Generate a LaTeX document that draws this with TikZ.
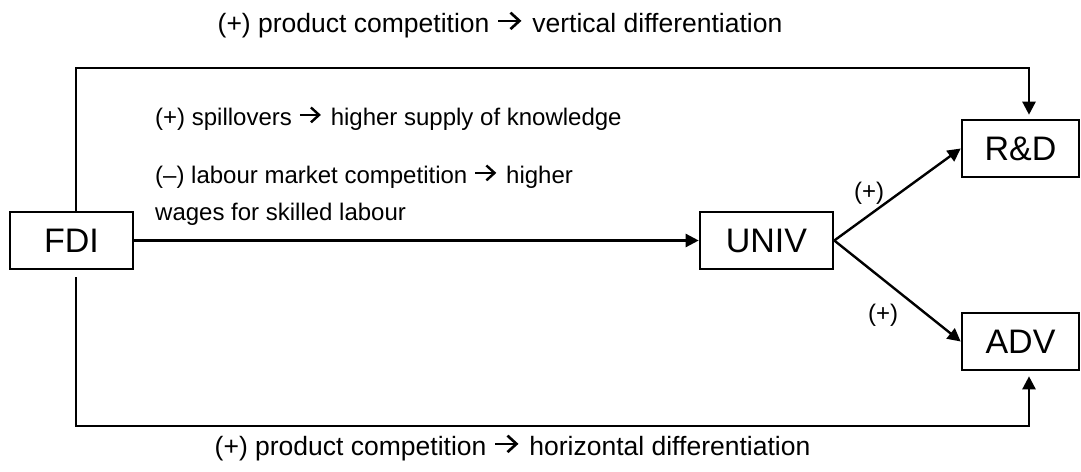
\documentclass[tikz,border=0pt]{standalone}
\usepackage{fontspec}
\setmainfont{Liberation Sans}
\usetikzlibrary{arrows.meta,calc}
\newcommand\txtarrow{\tikz[baseline=0pt,x=1cm,y=1cm]\draw[line width=0.1em,-{Straight Barb[length=0.34em,width=0.62em,line width=0.1em]}] (0.02em,0.42em) -- (0.9em,0.42em);\hspace{0.08em}}
\begin{document}
\begin{tikzpicture}[x=1pt,y=-1pt,
  box/.style={draw,line width=2.6pt,inner sep=0pt,minimum height=57pt,font=\fontsize{34}{40}\selectfont},
  lbl/.style={font=\fontsize{24}{28}\selectfont,inner sep=0pt},
  biglbl/.style={font=\fontsize{26.5}{30}\selectfont,inner sep=0pt},
  conn/.style={line width=2.4pt,-{Triangle[length=13pt,width=13pt]}},
  plain/.style={line width=2.4pt}]
\useasboundingbox (0,0) rectangle (1081,471);
\node[box,minimum width=123pt] (FDI) at (71.5,240.5) {FDI};
\node[box,minimum width=133pt] (UNIV) at (766.5,240.5) {UNIV};
\node[box,minimum width=117pt] (RD) at (1020.5,148.5) {R\&D};
\node[box,minimum width=117pt] (ADV) at (1020.5,341.5) {ADV};
\coordinate (top) at (76,68);
\coordinate (bot) at (76,426);
\coordinate (botstart) at (76,277);
\draw[conn,shorten >=4pt] ([xshift=4.5pt]FDI.north) -- (top) -| ([xshift=8.5pt]RD.north);
\draw[conn,shorten >=5pt] (botstart) -- (bot) -| ([xshift=8.5pt]ADV.south);
\draw[conn] (FDI.east) -- (UNIV.west);
\draw[conn] (UNIV.east) -- (RD.west);
\draw[conn] (UNIV.east) -- (ADV.west);
\node[biglbl,anchor=base] (t1) at (500,32) {(+) product competition \txtarrow{} vertical differentiation};
\node[biglbl,anchor=base] (t2) at (512.5,455) {(+) product competition \txtarrow{} horizontal differentiation};
\node[lbl,anchor=base west] (t3) at (155,125) {(+) spillovers \txtarrow{} higher supply of knowledge};
\node[lbl,anchor=base west] (t4) at (155,183) {(–) labour market competition \txtarrow{} higher};
\node[lbl,anchor=base west] (t5) at (155,220) {wages for skilled labour};
\node[lbl] (p1) at (869,193) {(+)};
\node[lbl] (p2) at (883,315) {(+)};
\end{tikzpicture}
\end{document}
